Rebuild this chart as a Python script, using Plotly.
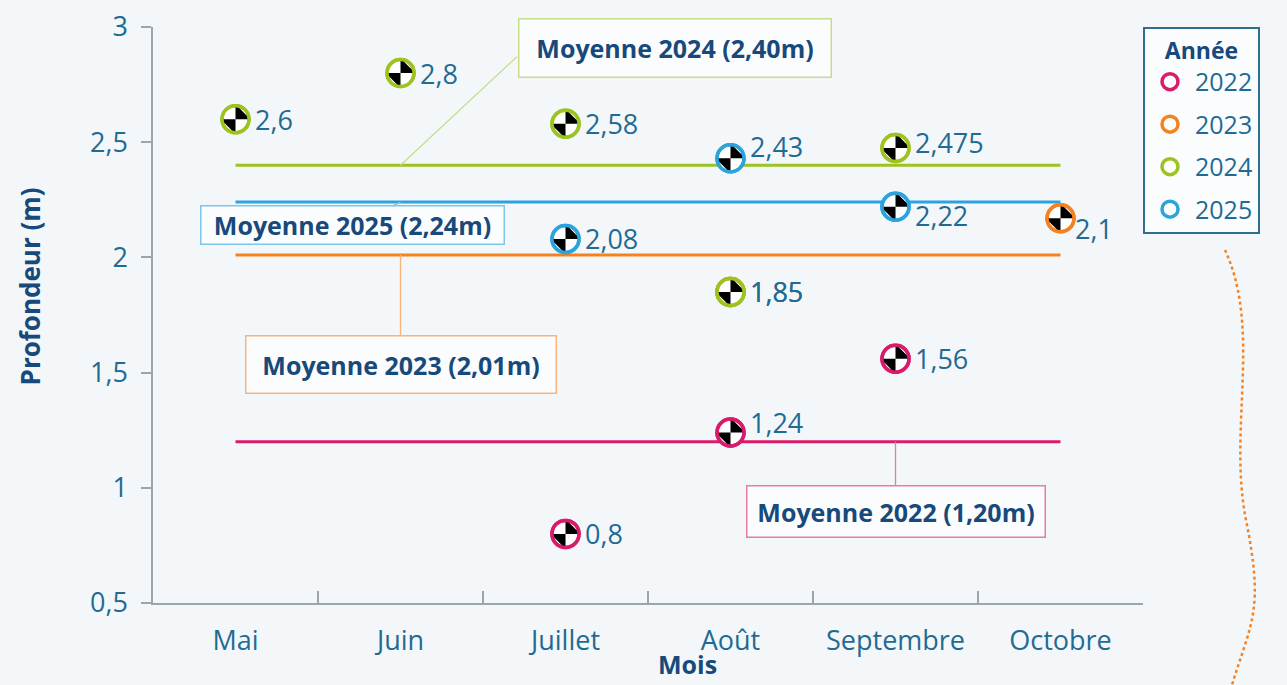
import plotly.graph_objects as go

# ---------------- data ----------------
months = ["Mai", "Juin", "Juillet", "Août", "Septembre", "Octobre"]
years = ["2022", "2023", "2024", "2025"]

months_2022 = ["Juillet", "Août", "Septembre"]
depth_2022 = [0.8, 1.24, 1.56]
labels_2022 = ["0,8", "1,24", "1,56"]

months_2023 = ["Août", "Octobre"]
depth_2023 = [1.85, 2.17]
labels_2023 = ["1,85", "2,1"]

months_2024 = ["Mai", "Juin", "Juillet", "Août", "Septembre"]
depth_2024 = [2.6, 2.8, 2.58, 1.85, 2.475]
labels_2024 = ["2,6", "2,8", "2,58", "1,85", "2,475"]

months_2025 = ["Juillet", "Août", "Septembre"]
depth_2025 = [2.08, 2.43, 2.22]
labels_2025 = ["2,08", "2,43", "2,22"]

mean_values = {"2022": 1.20, "2023": 2.01, "2024": 2.40, "2025": 2.24}
mean_texts = {"2022": "Moyenne 2022 (1,20m)", "2023": "Moyenne 2023 (2,01m)",
              "2024": "Moyenne 2024 (2,40m)", "2025": "Moyenne 2025 (2,24m)"}

# ---------------- styles ----------------
colors = {"2022": "#d81b6a", "2023": "#f5821f", "2024": "#9cc31f", "2025": "#2ba3dc"}
box_border = {"2022": "#e77aa6", "2023": "#f8b47a", "2024": "#c6de8a", "2025": "#7cc6ea"}
TEXT = "#1f6b93"
DARK = "#17497a"
AXIS = "#9aa6ae"
BG = "#f4f7f9"
FONT = "Open Sans"

series = {
    "2022": (months_2022, depth_2022, labels_2022),
    "2023": (months_2023, depth_2023, labels_2023),
    "2024": (months_2024, depth_2024, labels_2024),
    "2025": (months_2025, depth_2025, labels_2025),
}

# label vertical nudges (px) per (year, month)
label_shift = {("2025", "Août"): 12, ("2022", "Août"): 10, ("2024", "Septembre"): 5,
               ("2025", "Septembre"): -9, ("2023", "Octobre"): -10}
label_xshift = {("2023", "Octobre"): 12}

fig = go.Figure()

# mean lines
for yr in years:
    fig.add_trace(go.Scatter(
        x=[months[0], months[-1]], y=[mean_values[yr]] * 2, mode="lines",
        line=dict(color=colors[yr], width=3), showlegend=False, hoverinfo="skip"))

# markers: white disc + ring, black checker (bowtie rotated), ring on top
for yr in years:
    mx, my, _ = series[yr]
    fig.add_trace(go.Scatter(
        x=mx, y=my, mode="markers", name=yr, legendgroup=yr,
        marker=dict(symbol="circle", size=27, color="white",
                    line=dict(color=colors[yr], width=3.5))))
    fig.add_trace(go.Scatter(
        x=mx, y=my, mode="markers", legendgroup=yr, showlegend=False,
        marker=dict(symbol="bowtie", size=21, color="black", angle=-45,
                    line=dict(width=0)), hoverinfo="skip"))
    fig.add_trace(go.Scatter(
        x=mx, y=my, mode="markers", legendgroup=yr, showlegend=False,
        marker=dict(symbol="circle", size=27, color="rgba(0,0,0,0)",
                    line=dict(color=colors[yr], width=3.5)), hoverinfo="skip"))

annotations = []
# value labels
for yr in years:
    mx, my, ml = series[yr]
    for m, v, t in zip(mx, my, ml):
        annotations.append(dict(
            x=m, y=v, text=t, showarrow=False, xanchor="left", yanchor="middle",
            xshift=label_xshift.get((yr, m), 17), yshift=label_shift.get((yr, m), 0),
            font=dict(family=FONT, size=27, color=TEXT)))

# mean boxes: (anchor month, ax, ay, width, height)
box_pos = {
    "2024": ("Juin", 274, -117, 307, 53),
    "2025": ("Juin", -48, 23, 298, 33),
    "2023": ("Juin", 0, 109, 305, 52),
    "2022": ("Septembre", 0, 70, 293, 46),
}
for yr in years:
    m, ax, ay, w, h = box_pos[yr]
    annotations.append(dict(
        x=m, y=mean_values[yr], ax=ax, ay=ay, text="<b>" + mean_texts[yr] + "</b>",
        showarrow=True, arrowhead=0, arrowwidth=1.3,
        arrowcolor=box_border[yr] if yr != "2024" else "rgba(0,0,0,0)",
        width=w, height=h, borderpad=2, bgcolor="#fbfcfd",
        bordercolor=box_border[yr], borderwidth=1.5,
        font=dict(family=FONT, size=25, color=DARK)))
# leader line for 2024 box
annotations.append(dict(x="Juin", y=mean_values["2024"], ax=118, ay=-110, text="",
                        showarrow=True, arrowhead=0, arrowwidth=1.3,
                        arrowcolor=box_border["2024"]))

# axis titles
annotations.append(dict(x=0.54, y=-0.106, xref="paper", yref="paper", text="<b>Mois</b>",
                        showarrow=False, xanchor="center", yanchor="middle",
                        font=dict(family=FONT, size=25, color=DARK)))
annotations.append(dict(x=-0.124, y=0.55, xref="paper", yref="paper",
                        text="<b>Profondeur (m)</b>", textangle=-90, showarrow=False,
                        xanchor="center", yanchor="middle",
                        font=dict(family=FONT, size=26, color=DARK)))

fig.update_layout(
    width=1287, height=685,
    margin=dict(l=153, r=144, t=27, b=82),
    paper_bgcolor=BG, plot_bgcolor=BG,
    separators=", ",
    font=dict(family=FONT, color=TEXT),
    annotations=annotations,
    legend=dict(x=1.0, y=1.0, xanchor="left", yanchor="top",
                bgcolor="#fbfcfd", bordercolor="#2e6f8e", borderwidth=2,
                font=dict(family=FONT, size=25, color=TEXT),
                title=dict(text="<b>Année</b>", side="top center",
                           font=dict(family=FONT, size=23, color=DARK)),
                tracegroupgap=7, itemsizing="trace", itemwidth=40),
    xaxis=dict(type="category", categoryorder="array", categoryarray=months,
               range=[-0.5, 5.5], showgrid=False, zeroline=False, automargin=False,
               showline=True, linecolor=AXIS, linewidth=1.5,
               ticks="inside", tickson="boundaries", ticklen=12, tickcolor=AXIS,
               tickwidth=1.5, ticklabelstandoff=13,
               tickfont=dict(family=FONT, size=27, color=TEXT)),
    yaxis=dict(range=[0.5, 3], dtick=0.5, showgrid=False, zeroline=False, automargin=False,
               showline=True, linecolor=AXIS, linewidth=1.5,
               ticks="outside", ticklen=10, tickcolor=AXIS, tickwidth=1.5,
               ticklabelstandoff=8,
               tickfont=dict(family=FONT, size=27, color=TEXT)),
)

# decorative dotted wave at right edge of the page
def px(xp, yp):
    return (xp - 153) / 990, 1 - (yp - 27) / 576

p = [px(1225, 250), px(1262, 330), px(1228, 430), px(1246, 520), px(1252, 620), px(1232, 685)]
path = "M {},{} C {},{} {},{} {},{} S {},{} {},{}".format(
    p[0][0], p[0][1], p[1][0], p[1][1], p[2][0], p[2][1], p[3][0], p[3][1],
    p[4][0], p[4][1], p[5][0], p[5][1])
fig.add_shape(type="path", path=path, xref="paper", yref="paper",
              line=dict(color="#f5821f", width=2.5, dash="dot"), layer="above")

fig.write_html("out.html", config={"displayModeBar": False},
               post_script="document.body.style.margin='0';document.body.style.overflow='hidden';")
